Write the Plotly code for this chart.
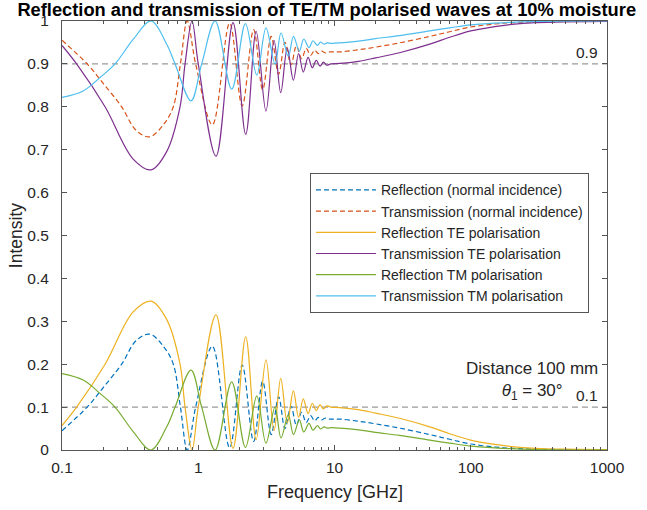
import plotly.graph_objects as go

# Normal incidence: frequency [GHz], reflection, transmission
f_norm = [0.1, 0.153, 0.2, 0.274, 0.35, 0.44, 0.56, 0.656, 0.74, 0.83, 0.957,
          1.27, 1.7, 2.1, 2.55, 2.97, 3.43, 3.89, 4.33, 4.8, 5.25, 5.74, 6.2,
          6.68, 7.15, 7.6, 8.05, 8.5, 9.2, 11, 15, 20, 30, 50, 70, 100, 150,
          200, 300, 500, 1000]
r_norm = [0.045, 0.1, 0.145, 0.2, 0.255, 0.27, 0.24, 0.2, 0.1, 0.0, 0.1,
          0.242, 0.005, 0.198, 0.02, 0.16, 0.036, 0.124, 0.05, 0.102, 0.058,
          0.088, 0.064, 0.08, 0.068, 0.076, 0.07, 0.074, 0.072, 0.072, 0.067,
          0.061, 0.051, 0.036, 0.025, 0.014, 0.007, 0.004, 0.002, 0.001, 0.0]
t_norm = [0.955, 0.9, 0.855, 0.8, 0.745, 0.73, 0.76, 0.8, 0.9, 1.0, 0.9,
          0.758, 0.995, 0.802, 0.98, 0.84, 0.964, 0.876, 0.95, 0.898, 0.942,
          0.912, 0.936, 0.92, 0.932, 0.924, 0.93, 0.926, 0.928, 0.928, 0.933,
          0.939, 0.949, 0.964, 0.975, 0.986, 0.993, 0.996, 0.998, 0.999, 1.0]

# TE polarisation, theta_1 = 30 deg
f_te = [0.1, 0.128, 0.207, 0.333, 0.45, 0.585, 0.735, 0.8, 0.9, 1.0, 1.35,
        1.8, 2.23, 2.66, 3.14, 3.6, 4.03, 4.5, 4.99, 5.45, 5.9, 6.4, 6.87,
        7.35, 7.83, 8.3, 8.77, 9.4, 11, 15, 20, 30, 50, 70, 100, 150, 200,
        300, 500, 1000]
r_te = [0.057, 0.1, 0.2, 0.322, 0.347, 0.305, 0.2, 0.1, 0.0, 0.1, 0.315,
        0.004, 0.264, 0.024, 0.21, 0.045, 0.167, 0.063, 0.138, 0.076, 0.119,
        0.085, 0.109, 0.092, 0.105, 0.096, 0.103, 0.1, 0.099, 0.094, 0.086,
        0.074, 0.054, 0.038, 0.023, 0.013, 0.008, 0.004, 0.002, 0.001]
t_te = [0.943, 0.9, 0.8, 0.678, 0.653, 0.695, 0.8, 0.9, 1.0, 0.9, 0.685,
        0.996, 0.736, 0.976, 0.79, 0.955, 0.833, 0.937, 0.862, 0.924, 0.881,
        0.915, 0.891, 0.908, 0.895, 0.904, 0.897, 0.9, 0.901, 0.906, 0.914,
        0.926, 0.946, 0.962, 0.977, 0.987, 0.992, 0.996, 0.998, 0.999]

# TM polarisation, theta_1 = 30 deg
f_tm = [0.1, 0.143, 0.19, 0.245, 0.333, 0.45, 0.587, 0.676, 0.885, 1.06,
        1.33, 1.76, 2.22, 2.69, 3.14, 3.66, 4.05, 4.58, 5.0, 5.52, 5.95, 6.5,
        6.95, 7.49, 7.9, 8.4, 8.85, 9.5, 11, 15, 20, 30, 50, 70, 100, 150,
        200, 300, 1000]
r_tm = [0.178, 0.163, 0.132, 0.1, 0.043, 0.0, 0.054, 0.1, 0.186, 0.1, 0.0,
        0.159, 0.006, 0.126, 0.016, 0.1, 0.028, 0.082, 0.036, 0.07, 0.042,
        0.062, 0.046, 0.057, 0.049, 0.054, 0.051, 0.052, 0.051, 0.047, 0.041,
        0.034, 0.023, 0.016, 0.009, 0.005, 0.003, 0.001, 0.0]
t_tm = [0.822, 0.837, 0.868, 0.9, 0.957, 1.0, 0.946, 0.9, 0.814, 0.9, 1.0,
        0.841, 0.994, 0.874, 0.984, 0.9, 0.972, 0.918, 0.964, 0.93, 0.958,
        0.938, 0.954, 0.943, 0.951, 0.946, 0.949, 0.948, 0.949, 0.953, 0.959,
        0.966, 0.977, 0.984, 0.991, 0.995, 0.997, 0.999, 1.0]

ref_levels = [0.9, 0.1]
x_ticks = [0.1, 1, 10, 100, 1000]
x_ticktext = ["0.1", "1", "10", "100", "1000"]

series = [
    ("Reflection (normal incidence)", f_norm, r_norm, "#0072BD", "5px,3px"),
    ("Transmission (normal incidence)", f_norm, t_norm, "#D95319", "5px,3px"),
    ("Reflection TE polarisation", f_te, r_te, "#EDB120", "solid"),
    ("Transmission TE polarisation", f_te, t_te, "#7E2F8E", "solid"),
    ("Reflection TM polarisation", f_tm, r_tm, "#77AC30", "solid"),
    ("Transmission TM polarisation", f_tm, t_tm, "#4DBEEE", "solid"),
]

FONT = "Liberation Sans, Arial, sans-serif"
AX = "#555555"
TXT = "#262626"

fig = go.Figure()
for name, fx, fy, color, dash in series:
    fig.add_trace(go.Scatter(
        x=fx, y=fy, mode="lines", name=name,
        line=dict(color=color, width=1.2, dash=dash, shape="spline", smoothing=1.0),
    ))

for lvl in ref_levels:
    fig.add_hline(y=lvl, line=dict(color="#808080", width=1, dash="6px,4px"), layer="below")
    fig.add_annotation(x=0.988, xref="paper", xanchor="right", y=lvl, yref="y",
                       yanchor="bottom", yshift=1, text=f"{lvl:g}", showarrow=False,
                       font=dict(family=FONT, size=15.5, color=TXT))

fig.add_annotation(x=0.862, xref="paper", y=0.160, yref="paper", xanchor="center",
                   yanchor="middle", align="center", showarrow=False,
                   text="Distance 100 mm<br><i>θ</i><sub>1</sub> = 30°",
                   font=dict(family=FONT, size=17, color=TXT))

# axis titles
fig.add_annotation(x=0.5, xref="paper", y=-0.097, yref="paper", text="Frequency [GHz]",
                   showarrow=False, xanchor="center", yanchor="middle",
                   font=dict(family=FONT, size=18, color=TXT))
fig.add_annotation(x=-0.085, xref="paper", y=0.5, yref="paper", text="Intensity",
                   showarrow=False, textangle=-90, xanchor="center", yanchor="middle",
                   font=dict(family=FONT, size=17.5, color=TXT))

minor_vals = [m * 10 ** e for e in range(-1, 3) for m in range(2, 10)]

fig.update_layout(
    width=647, height=510,
    margin=dict(l=62, r=40, t=21, b=60),
    paper_bgcolor="white", plot_bgcolor="white",
    font=dict(family=FONT, color=TXT),
    title=dict(text="<b>Reflection and transmission of TE/TM polarised waves at 10% moisture</b>",
               x=0.505, xref="container", xanchor="center",
               y=0.993, yref="container", yanchor="top",
               font=dict(family=FONT, size=18.3, color="black")),
    showlegend=True,
    legend=dict(x=0.455, y=0.645, xanchor="left", yanchor="top",
                bgcolor="white", bordercolor=AX, borderwidth=1,
                font=dict(family=FONT, size=14, color=TXT),
                itemwidth=60, tracegroupgap=0),
    xaxis=dict(type="log", range=[-1, 3], tickvals=x_ticks, ticktext=x_ticktext,
               ticks="inside", ticklen=5, tickcolor=AX, showline=True, linecolor=AX,
               linewidth=1, mirror="ticks", showgrid=False, zeroline=False,
               ticklabelstandoff=3,
               tickfont=dict(family=FONT, size=15.5, color=TXT),
               minor=dict(tickvals=minor_vals, ticks="inside", ticklen=3,
                          tickcolor=AX, showgrid=False)),
    yaxis=dict(range=[0, 1], dtick=0.1, tick0=0, ticks="inside", ticklen=5,
               tickcolor=AX, showline=True, linecolor=AX, linewidth=1,
               mirror="ticks", showgrid=False, zeroline=False,
               ticklabelstandoff=9,
               tickfont=dict(family=FONT, size=15.5, color=TXT)),
)

fig.write_html("out.html")
